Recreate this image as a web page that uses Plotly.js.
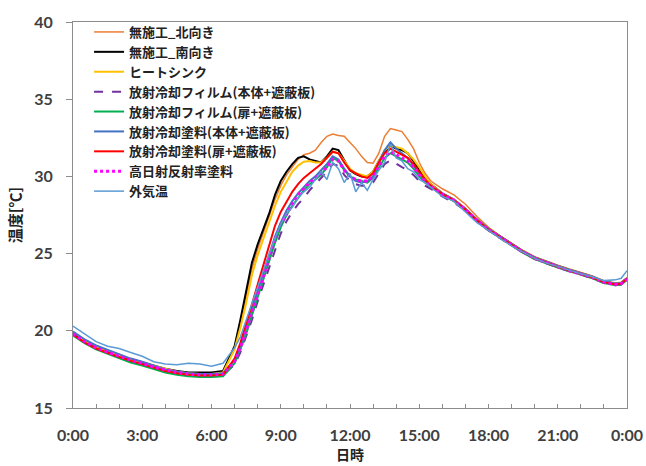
<!DOCTYPE html>
<html>
<head>
<meta charset="utf-8">
<script src="https://cdn.plot.ly/plotly-3.0.1.min.js"></script>
<style>html,body{margin:0;padding:0;background:#fff;}#chart{width:646px;height:466px;}</style>
</head>
<body>
<div id="chart"></div>
<script>
// time of day in hours
const hours = [0,0.5,1,1.5,2,2.5,3,3.5,4,4.5,5,5.5,6,6.5,
  7,7.25,7.5,7.75,8,8.25,8.5,8.75,9,9.25,9.5,9.75,10,10.25,10.5,10.75,11,11.25,11.5,11.75,12,12.25,12.5,12.75,13,13.25,13.5,13.75,14,14.25,14.5,14.75,15,15.25,15.5,
  16,16.5,17,17.5,18,18.5,19,19.5,20,20.5,21,21.5,22,22.5,23,23.5,23.75,24];

const tickHours = [0,3,6,9,12,15,18,21,24];
const tickLabels = ['0:00','3:00','6:00','9:00','12:00','15:00','18:00','21:00','0:00'];

const seriesNames = ['無施工_北向き','無施工_南向き','ヒートシンク','放射冷却フィルム(本体+遮蔽板)','放射冷却フィルム(扉+遮蔽板)','放射冷却塗料(本体+遮蔽板)','放射冷却塗料(扉+遮蔽板)','高日射反射率塗料','外気温'];

const northUntreated = [19.9,19.4,19.0,18.7,18.45,18.2,18.0,17.75,17.5,17.35,17.25,17.2,17.2,17.3,
  18.9,20.4,22.2,24.0,25.3,26.4,27.4,28.5,29.4,30.1,30.6,31.1,31.4,31.5,31.7,32.2,32.6,32.75,32.65,32.6,32.2,31.8,31.3,30.9,30.85,31.5,32.6,33.1,33.0,32.9,32.4,31.8,30.9,30.2,29.7,
  29.2,28.8,28.2,27.4,26.7,26.15,25.65,25.2,24.8,24.5,24.25,24.0,23.8,23.55,23.25,23.1,23.15,23.45];

const southUntreated = [19.8,19.3,18.9,18.6,18.35,18.15,17.95,17.75,17.55,17.4,17.3,17.3,17.3,17.4,
  19.0,20.7,22.6,24.4,25.6,26.6,27.6,28.8,29.7,30.3,30.8,31.2,31.3,31.1,31.0,30.9,31.3,31.8,31.7,31.0,30.4,30.15,30.0,30.0,30.3,31.0,31.6,32.0,31.8,31.7,31.5,31.0,30.4,29.9,29.5,
  28.9,28.5,27.9,27.2,26.6,26.1,25.6,25.15,24.75,24.45,24.2,23.95,23.75,23.5,23.2,23.05,23.1,23.4];

const heatSink = [19.85,19.35,18.95,18.65,18.4,18.15,17.95,17.7,17.5,17.35,17.25,17.2,17.2,17.3,
  18.8,20.2,21.8,23.6,24.9,26.0,27.0,28.1,29.0,29.7,30.3,30.7,30.95,31.0,30.9,30.9,31.2,31.6,31.5,31.0,30.5,30.2,30.1,30.0,30.3,31.0,31.7,32.0,31.9,31.8,31.5,31.1,30.6,30.0,29.5,
  28.9,28.5,27.9,27.2,26.6,26.1,25.6,25.15,24.75,24.45,24.2,23.95,23.75,23.5,23.2,23.05,23.1,23.4];

const filmBody = [19.8,19.3,18.9,18.6,18.35,18.1,17.9,17.65,17.4,17.25,17.15,17.1,17.1,17.15,
  17.8,18.6,19.6,20.7,21.9,23.0,24.2,25.3,26.3,27.1,27.7,28.2,28.6,29.1,29.5,29.9,30.3,30.8,30.7,30.1,29.7,29.5,29.4,29.4,29.6,30.2,30.8,31.05,30.8,30.6,30.4,30.1,29.7,29.4,29.2,
  28.7,28.3,27.8,27.1,26.5,26.0,25.5,25.05,24.65,24.35,24.1,23.85,23.65,23.4,23.1,22.95,23.0,23.3];

const filmDoor = [19.7,19.2,18.8,18.5,18.2,17.95,17.75,17.5,17.3,17.15,17.05,17.0,17.0,17.05,
  17.9,18.8,19.8,21.0,22.2,23.4,24.6,25.7,26.7,27.5,28.1,28.6,29.1,29.5,29.8,30.1,30.6,31.2,31.0,30.4,30.0,29.8,29.7,29.6,29.9,30.6,31.2,31.5,31.3,31.1,30.9,30.5,30.0,29.6,29.3,
  28.8,28.4,27.8,27.1,26.5,26.0,25.5,25.05,24.65,24.35,24.1,23.85,23.65,23.4,23.1,22.95,23.0,23.3];

const paintBody = [19.95,19.45,19.05,18.75,18.45,18.2,18.0,17.75,17.5,17.35,17.25,17.2,17.2,17.25,
  18.1,19.0,20.2,21.4,22.6,23.8,25.0,26.1,27.0,27.8,28.4,28.9,29.3,29.7,30.0,30.4,30.8,31.3,31.1,30.5,30.0,29.7,29.6,29.7,30.0,30.9,31.7,32.2,31.8,31.5,31.2,30.7,30.2,29.7,29.4,
  28.9,28.5,27.9,27.2,26.6,26.1,25.6,25.15,24.75,24.45,24.2,23.95,23.75,23.5,23.2,23.05,23.1,23.4];

const paintDoor = [19.75,19.25,18.85,18.55,18.3,18.05,17.85,17.6,17.4,17.25,17.15,17.1,17.1,17.15,
  18.2,19.2,20.4,21.7,23.0,24.3,25.6,26.8,27.7,28.4,29.0,29.5,29.9,30.2,30.5,30.8,31.2,31.6,31.5,30.9,30.4,30.2,30.0,29.9,30.2,30.9,31.5,31.8,31.6,31.4,31.2,30.8,30.3,29.8,29.4,
  28.85,28.45,27.85,27.15,26.55,26.05,25.55,25.1,24.7,24.4,24.15,23.9,23.7,23.45,23.15,23.0,23.05,23.35];

const highReflect = [19.8,19.3,18.9,18.6,18.35,18.1,17.9,17.65,17.45,17.3,17.2,17.15,17.15,17.2,
  18.0,18.9,20.0,21.2,22.4,23.6,24.8,25.9,26.9,27.6,28.2,28.8,29.2,29.6,29.9,30.2,30.6,31.1,31.0,30.4,30.0,29.8,29.7,29.7,30.0,30.7,31.3,31.6,31.4,31.2,31.0,30.6,30.1,29.7,29.35,
  28.85,28.45,27.85,27.15,26.55,26.05,25.55,25.1,24.7,24.4,24.15,23.9,23.7,23.45,23.15,23.0,23.05,23.35];

const outdoor = [20.3,19.8,19.3,19.0,18.85,18.6,18.35,18.0,17.85,17.8,17.9,17.85,17.7,17.9,
  18.9,19.6,20.7,21.8,22.8,23.9,25.0,26.0,26.9,27.6,28.0,28.6,29.0,29.3,29.8,30.3,29.8,30.9,30.5,29.6,30.2,29.0,29.6,29.1,29.8,30.4,30.9,32.1,31.2,31.0,30.5,30.3,29.8,29.6,29.3,
  28.7,28.4,27.7,27.0,26.5,26.0,25.5,25.1,24.7,24.4,24.15,23.95,23.7,23.5,23.25,23.3,23.4,23.9];

const values = [northUntreated, southUntreated, heatSink, filmBody, filmDoor, paintBody, paintDoor, highReflect, outdoor];
const styles = [
  {color:'#ED7D31', width:1.5, dash:'solid'},
  {color:'#000000', width:2, dash:'solid'},
  {color:'#FFC000', width:2, dash:'solid'},
  {color:'#7030A0', width:2, dash:'dash'},
  {color:'#00B050', width:2, dash:'solid'},
  {color:'#4472C4', width:2, dash:'solid'},
  {color:'#FF0000', width:2, dash:'solid'},
  {color:'#FF00FF', width:3, dash:'dot'},
  {color:'#5B9BD5', width:1.5, dash:'solid'}
];

const traces = seriesNames.map((n,i)=>({
  type:'scatter', mode:'lines', name:n, x:hours, y:values[i],
  line:{color:styles[i].color, width:styles[i].width, dash:styles[i].dash}
}));

const axColor = '#8c8c8c';
const tickFont = {family:'Lato, "Liberation Sans", sans-serif', size:16, weight:'bold', color:'#404040'};
const jpFont = '"Noto Sans CJK JP", sans-serif';

const layout = {
  width:646, height:466,
  margin:{l:73, r:19, t:22, b:58},
  paper_bgcolor:'#ffffff', plot_bgcolor:'#ffffff',
  showlegend:true,
  legend:{x:0.029, y:1.013, xanchor:'left', yanchor:'top', bgcolor:'rgba(0,0,0,0)',
    font:{family:jpFont, size:13, weight:'bold', color:'#222'}},
  xaxis:{range:[0,24], tickmode:'array', tickvals:tickHours, ticktext:tickLabels,
    ticks:'inside', ticklen:4, tickcolor:axColor, showline:true, mirror:true, linecolor:axColor, linewidth:1,
    showgrid:false, zeroline:false, tickfont:tickFont, ticklabelstandoff:13,
    minor:{tickmode:'linear', tick0:0, dtick:1, ticks:'inside', ticklen:4, tickcolor:axColor, showgrid:false},
    title:{text:'日時', font:{family:jpFont, size:14, weight:'bold', color:'#222'}, standoff:4}},
  yaxis:{range:[15,40], tickmode:'linear', tick0:15, dtick:5,
    ticks:'outside', ticklen:6, tickcolor:axColor, showline:true, mirror:true, linecolor:axColor, linewidth:1,
    showgrid:false, zeroline:false, tickfont:tickFont, ticklabelstandoff:10,
    title:{text:'温度[℃]', font:{family:jpFont, size:15, weight:'bold', color:'#222'}, standoff:8}}
};

Plotly.newPlot('chart', traces, layout, {staticPlot:true, displayModeBar:false});
</script>
</body>
</html>
